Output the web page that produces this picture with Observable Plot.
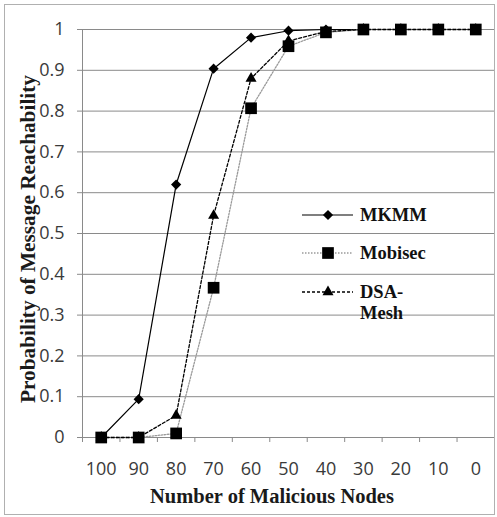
<!DOCTYPE html>
<html>
<head>
<meta charset="utf-8">
<script src="https://cdn.jsdelivr.net/npm/d3@7"></script>
<script src="https://cdn.jsdelivr.net/npm/@observablehq/plot@0.6"></script>
<style>
  html, body { margin: 0; padding: 0; background: white; }
</style>
</head>
<body>
<div id="chart"></div>
<script>
// Number of malicious nodes (x categories, shown from 100 down to 0)
const nodes = [100, 90, 80, 70, 60, 50, 40, 30, 20, 10, 0];
// Probability of message reachability per scheme
const mkmm    = [0, 0.094, 0.62, 0.904, 0.98, 0.997, 1, 1, 1, 1, 1];
const mobisec = [0, 0, 0.01, 0.367, 0.807, 0.959, 0.993, 1, 1, 1, 1];
const dsaMesh = [0, 0, 0.054, 0.544, 0.88, 0.972, 0.995, 1, 1, 1, 1];
const seriesNames = ["MKMM", "Mobisec", "DSA-Mesh"];
const legendLabels = [["MKMM"], ["Mobisec"], ["DSA-", "Mesh"]];
const yTicks = [0, 0.1, 0.2, 0.3, 0.4, 0.5, 0.6, 0.7, 0.8, 0.9, 1];

const rows = (vals) => nodes.map((n, i) => ({n, p: vals[i]}));
// category boundaries: half a step outside each category
const boundaries = d3.range(105, -6, -10);

const styles = {
  MKMM:       {stroke: "#000", strokeWidth: 1.2, dash: null, symbol: "diamond2", r: 4.6},
  Mobisec:    {stroke: "#9a9a9a", strokeWidth: 1.3, dash: "1.5,1.5", symbol: "square", r: 6.6},
  "DSA-Mesh": {stroke: "#000", strokeWidth: 1.3, dash: "3,2", symbol: "triangle", r: 4.1}
};
const seriesData = {MKMM: mkmm, Mobisec: mobisec, "DSA-Mesh": dsaMesh};

const gridColor = "#8a8a8a";
const seriesMarks = seriesNames.flatMap(name => {
  const s = styles[name];
  const d = rows(seriesData[name]);
  return [
    Plot.line(d, {x: "n", y: "p", stroke: s.stroke, strokeWidth: s.strokeWidth, strokeDasharray: s.dash}),
    Plot.dot(d, {x: "n", y: "p", symbol: s.symbol, r: s.r, fill: "#000", stroke: "none"})
  ];
});

const chart = Plot.plot({
  width: 497,
  height: 517,
  marginLeft: 82,
  marginRight: 3,
  marginTop: 29,
  marginBottom: 80,
  x: {type: "linear", domain: [105, -5]},
  y: {domain: [0, 1]},
  style: {fontFamily: "'Open Sans', sans-serif", fontSize: "18px", color: "#3a3a3a", background: "white"},
  marks: [
    Plot.gridY(yTicks, {stroke: gridColor, strokeOpacity: 1, strokeWidth: 1}),
    Plot.ruleX([105], {stroke: gridColor}),
    Plot.ruleY([0], {stroke: gridColor}),
    Plot.axisY(yTicks, {tickSize: 5, tickPadding: 13, stroke: gridColor, label: null,
      tickFormat: d => String(Math.round(d * 10) / 10)}),
    Plot.axisX(boundaries, {tickSize: 5, stroke: gridColor, label: null, tickFormat: () => ""}),
    Plot.axisX(nodes, {tickSize: 0, tickPadding: 25, label: null, tickFormat: d => String(d)}),
    ...seriesMarks
  ]
});

const svg = d3.select(chart);

// outer border of the figure
svg.append("rect")
  .attr("x", 4.5).attr("y", 4.5).attr("width", 490).attr("height", 510)
  .attr("fill", "none").attr("stroke", "#b0b0b0").attr("stroke-width", 1);

const serif = "'Liberation Serif', 'DejaVu Serif', serif";

// axis titles
svg.append("text")
  .attr("x", 272).attr("y", 503)
  .attr("text-anchor", "middle")
  .attr("font-family", serif).attr("font-weight", "bold").attr("font-size", 20.5)
  .attr("fill", "#1a1a1a")
  .text("Number of Malicious Nodes");

svg.append("text")
  .attr("transform", "translate(35,239) rotate(-90)")
  .attr("text-anchor", "middle")
  .attr("font-family", serif).attr("font-weight", "bold").attr("font-size", 21.3)
  .attr("fill", "#1a1a1a")
  .text("Probability of Message Reachability");

// legend
const legend = svg.append("g");
const legendY = [215, 253, 292];
seriesNames.forEach((name, i) => {
  const s = styles[name];
  const y = legendY[i];
  legend.append("line")
    .attr("x1", 302).attr("x2", 353).attr("y1", y).attr("y2", y)
    .attr("stroke", s.stroke).attr("stroke-width", s.strokeWidth)
    .attr("stroke-dasharray", s.dash);
  const sym = {diamond2: d3.symbolDiamond2, square: d3.symbolSquare, triangle: d3.symbolTriangle}[s.symbol];
  legend.append("path")
    .attr("transform", `translate(328,${y})`)
    .attr("d", d3.symbol(sym, Math.PI * s.r * s.r)())
    .attr("fill", "#000");
  const t = legend.append("text")
    .attr("x", 360).attr("y", y + 6)
    .attr("text-anchor", "start")
    .attr("font-family", serif).attr("font-weight", "bold").attr("font-size", 18.5)
    .attr("fill", "#111");
  legendLabels[i].forEach((line, j) => {
    t.append("tspan").attr("x", 360).attr("dy", j === 0 ? 0 : 21).text(line);
  });
});

document.getElementById("chart").appendChild(chart);
</script>
</body>
</html>
